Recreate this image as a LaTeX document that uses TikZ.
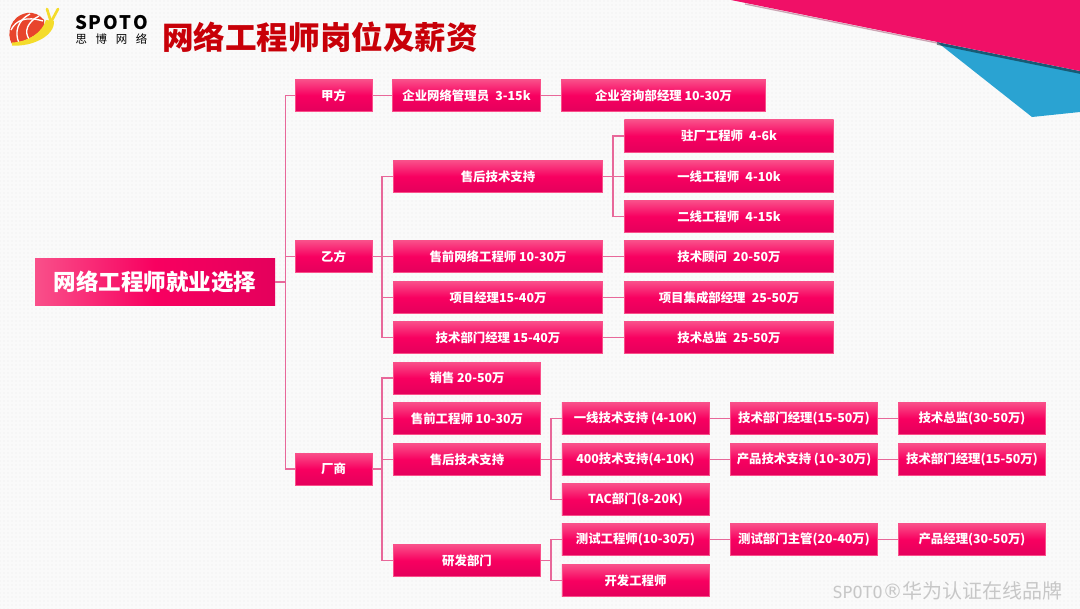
\documentclass[tikz,border=0pt]{standalone}
\usepackage{fontspec}
\setmainfont{Noto Sans CJK SC}
\setmonofont{DejaVu Sans Mono}
\newfontfamily\symfont{DejaVu Sans}
\usetikzlibrary{positioning,patterns}
\definecolor{boxtop}{HTML}{F9508A}
\definecolor{boxmid}{HTML}{F80060}
\definecolor{boxlow}{HTML}{E4005C}
\definecolor{linepink}{HTML}{E8689A}
\definecolor{rosered}{HTML}{F01067}
\definecolor{skyblue}{HTML}{2AA3D2}
\definecolor{titlered}{HTML}{C80008}
\definecolor{snailred}{HTML}{E8452C}
\definecolor{snailyellow}{HTML}{F4DC2C}
\tikzset{
  jobbox/.style={inner sep=0pt, minimum height=24pt, text=white, font=\bfseries\fontsize{9.3pt}{11pt}\selectfont,
    top color=boxtop, bottom color=boxlow, middle color=boxmid, draw=boxtop, line width=0.4pt},
  linkline/.style={draw=linepink, line width=1.1pt},
}
\begin{document}
\begin{tikzpicture}[x=0.75pt,y=-0.75pt]
\useasboundingbox (0,0) rectangle (1080,609);
\fill[black!2] (0,0) rectangle (1080,609);
\fill[pattern=dots, pattern color=black!7] (0,0) rectangle (1080,609);
% corner shapes
\fill[skyblue] (937,42) -- (1032,117) -- (1080,112) -- (1080,71) -- cycle;
\draw[black!80!skyblue, line width=2pt, opacity=0.55] (937,43.5) -- (1080,72.5);
\draw[black!50!rosered, line width=1pt, opacity=0.35] (745,4) -- (937,43);
\fill[rosered] (731,0) -- (1080,71) -- (1080,0) -- cycle;
% logo
\fill[snailred] (12,44) .. controls (6,34) and (10,16) .. (27,13) .. controls (34,12) and (40,15) .. (44,20) -- (44,28) .. controls (36,36) and (24,42) .. (12,44) -- cycle;
\draw[white, line width=1pt] (19,43) .. controls (14,32) and (18,20) .. (30,14);
\draw[white, line width=1pt] (29,39) .. controls (24,32) and (27,22) .. (39,16);
\draw[white, line width=1pt] (11,30) .. controls (16,20) and (26,16) .. (43,21);
\fill[snailyellow] (12,42.5) .. controls (28,42) and (42,33) .. (46,20) -- (54,21) .. controls (55,36) and (32,47) .. (12,45.5) -- cycle;
\draw[snailyellow, line width=2pt, line cap=round] (51,22) -- (47,9) (51,22) -- (58,9);
\node[inner sep=0pt, font=\bfseries\fontsize{14pt}{16pt}\selectfont] (logoname) at (111.5,23) {S\kern1.2pt P\kern1.2pt O\kern1.2pt T\kern1.2pt O};
\node[inner sep=0pt, font=\fontsize{8.6pt}{10pt}\selectfont] (logocn) at (111.5,39.5) {思\hspace{6.5pt}博\hspace{6.5pt}网\hspace{6.5pt}络};
% title
\node[inner sep=0pt, text=titlered, font=\bfseries\fontsize{23.7pt}{26pt}\selectfont] (title) at (320,37) {网络工程师岗位及薪资};
% boxes
\node[jobbox, minimum width=180pt, minimum height=34.5pt, left color=boxtop, right color=boxlow, middle color=boxmid, draw=none, font=\bfseries\fontsize{16.9pt}{18pt}\selectfont] (root) at (155,282) {网络工程师就业选择};
\foreach \name/\y/\txt in {jia/95.5/甲方, yi/256.5/乙方, chang/469/厂商}
  \node[jobbox, minimum width=57.4pt] (\name) at (333.5,\y) {\txt};
\node[jobbox, minimum width=111.1pt] (admin) at (466.5,95.5) {企业网络管理员\enspace 3-15k};
\node[jobbox, minimum width=153.1pt] (consult) at (663.5,95.5) {企业咨询部经理 10-30万};
\foreach \name/\y/\txt in {after/176.5/售后技术支持, pre/256.5/售前网络工程师 10-30万, pm/297.5/项目经理15-40万, techmgr/337.5/技术部门经理 15-40万}
  \node[jobbox, minimum width=157.1pt] (\name) at (498,\y) {\txt};
\foreach \name/\y/\txt in {site/136/驻厂工程师\enspace 4-6k, lineone/176.5/一线工程师\enspace 4-10k, linetwo/216.5/二线工程师\enspace 4-15k, advisor/256.5/技术顾问\enspace 20-50万, integ/297.5/项目集成部经理\enspace 25-50万, chief/337.5/技术总监\enspace 25-50万}
  \node[jobbox, minimum width=157.1pt] (\name) at (729,\y) {\txt};
\foreach \name/\y/\txt in {sales/378/销售 20-50万, presale/418.5/售前工程师 10-30万, service/459.5/售后技术支持, rd/560.5/研发部门}
  \node[jobbox, minimum width=110.6pt] (\name) at (467,\y) {\txt};
\foreach \name/\y/\txt in {first/418.5/一线技术支持 (4-10K), hotline/459.5/400技术支持(4-10K), tac/499.5/TAC部门(8-20K), test/539.5/测试工程师(10-30万), dev/580.5/开发工程师}
  \node[jobbox, minimum width=110.6pt] (\name) at (635.5,\y) {\txt};
\foreach \name/\y/\txt in {deptmgr/418.5/技术部门经理(15-50万), prodsup/459.5/产品技术支持 (10-30万), testmgr/539.5/测试部门主管(20-40万)}
  \node[jobbox, minimum width=110.6pt] (\name) at (804,\y) {\txt};
\foreach \name/\y/\txt in {topchief/418.5/技术总监(30-50万), deptmgrb/459.5/技术部门经理(15-50万), prodmgr/539.5/产品经理(30-50万)}
  \node[jobbox, minimum width=110.6pt] (\name) at (972,\y) {\txt};
% links
\foreach \a/\b in {root/jia, root/yi, root/chang}
  \draw[linkline] (\a.east) -- ++(10,0) |- (\b.west);
\foreach \a/\b in {yi/after, yi/pre, yi/pm, yi/techmgr, chang/sales, chang/presale, chang/service, chang/rd}
  \draw[linkline] (\a.east) -- ++(10,0) |- (\b.west);
\foreach \a/\b in {after/site, after/lineone, after/linetwo, service/first, service/hotline, service/tac, rd/test, rd/dev}
  \draw[linkline] (\a.east) -- ++(10,0) |- (\b.west);
\foreach \a/\b in {jia/admin, admin/consult, pre/advisor, pm/integ, techmgr/chief, first/deptmgr, deptmgr/topchief, hotline/prodsup, prodsup/deptmgrb, test/testmgr, testmgr/prodmgr}
  \draw[linkline] (\a) -- (\b);
% watermark
\node[inner sep=0pt, anchor=east, text=black!22, font=\fontsize{15pt}{17pt}\selectfont] (mark) at (1063,591) {{\ttfamily\fontsize{12.5pt}{14pt}\selectfont SPOTO}{\symfont ®}华为认证在线品牌};
\end{tikzpicture}
\end{document}
